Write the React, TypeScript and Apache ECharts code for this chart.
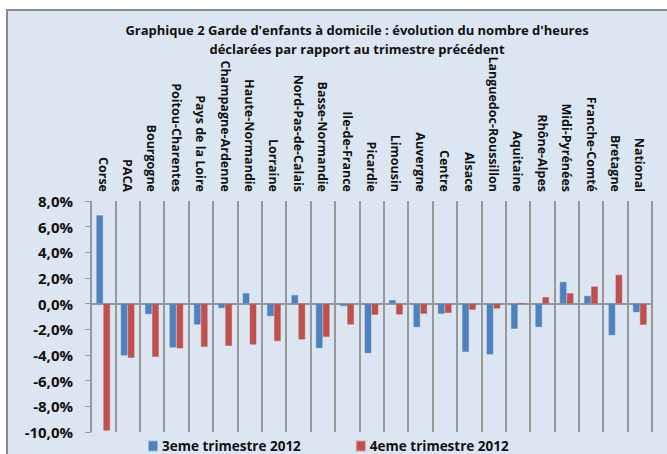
import React, { useEffect, useRef } from "react";
import * as echarts from "echarts";

const categories = [
  "Corse", "PACA", "Bourgogne", "Poitou-Charentes", "Pays de la Loire",
  "Champagne-Ardenne", "Haute-Normandie", "Lorraine", "Nord-Pas-de-Calais",
  "Basse-Normandie", "Ile-de-France", "Picardie", "Limousin", "Auvergne",
  "Centre", "Alsace", "Languedoc-Roussillon", "Aquitaine", "Rhône-Alpes",
  "Midi-Pyrénées", "Franche-Comté", "Bretagne", "National",
];
const q3_2012 = [
  6.9, -4.05, -0.83, -3.43, -1.64, -0.36, 0.83, -0.99, 0.68, -3.48,
  -0.2, -3.87, 0.29, -1.84, -0.8, -3.77, -3.97, -1.97, -1.84, 1.71,
  0.62, -2.47, -0.68,
];
const q4_2012 = [
  -9.9, -4.23, -4.16, -3.5, -3.38, -3.3, -3.2, -2.93, -2.8, -2.6,
  -1.64, -0.88, -0.86, -0.8, -0.73, -0.49, -0.39, 0.03, 0.52, 0.83,
  1.35, 2.26, -1.66,
];
const seriesNames = ["3eme trimestre 2012", "4eme trimestre 2012"];
const titleLines = [
  "Graphique 2 Garde d'enfants à domicile : évolution du nombre d'heures",
  "déclarées par rapport au trimestre précédent",
];

const FONT = "'Open Sans', sans-serif";

export default function App() {
  const ref = useRef<HTMLDivElement>(null);
  useEffect(() => {
    if (!ref.current) return;
    const chart = echarts.init(ref.current, undefined, { renderer: "svg" });
    chart.setOption({
      animation: false,
      backgroundColor: "#ffffff",
      graphic: [
        {
          type: "rect",
          z: -10,
          silent: true,
          shape: { x: 7, y: 10, width: 700, height: 500 },
          style: { fill: "#DCE6F2", stroke: "#8a8a8a", lineWidth: 2 },
        },
      ],
      title: {
        text: titleLines.join("\n"),
        left: 352,
        top: 15,
        textAlign: "center",
        textStyle: {
          fontFamily: FONT,
          fontWeight: "bold",
          fontSize: 13,
          color: "#111",
          lineHeight: 19,
        },
      },
      legend: {
        left: 143,
        top: 434,
        itemWidth: 8,
        itemHeight: 9,
        itemGap: 55,
        icon: "rect",
        textStyle: { fontFamily: FONT, fontWeight: "bold", fontSize: 13.5, color: "#111" },
        data: seriesNames,
      },
      grid: { left: 91, right: 15, top: 201, bottom: 22, containLabel: false },
      xAxis: [
        {
          type: "category",
          data: categories,
          position: "top",
          axisLine: { show: false, onZero: false },
          axisTick: { show: false },
          axisLabel: {
            rotate: 90,
            interval: 0,
            margin: 9,
            fontFamily: FONT,
            fontWeight: "bold",
            fontSize: 12.5,
            color: "#111",
          },
          splitLine: { show: true, lineStyle: { color: "#989898", width: 2 } },
        },
        {
          type: "category",
          data: categories,
          position: "bottom",
          axisLine: { show: true, onZero: true, lineStyle: { color: "#989898", width: 2 } },
          axisTick: { show: true, length: 5, lineStyle: { color: "#989898", width: 2 } },
          axisLabel: { show: false },
          splitLine: { show: false },
        },
      ],
      yAxis: {
        type: "value",
        min: -10,
        max: 8,
        interval: 2,
        axisLine: { show: true, lineStyle: { color: "#989898", width: 1 } },
        axisTick: { show: true, length: 6, lineStyle: { color: "#989898" } },
        splitLine: { show: false },
        axisLabel: {
          margin: 18,
          fontFamily: FONT,
          fontWeight: "bold",
          fontSize: 15,
          color: "#111",
          formatter: (v: number) => v.toFixed(1).replace(".", ",") + "%",
        },
      },
      series: [
        {
          name: seriesNames[0],
          type: "bar",
          xAxisIndex: 0,
          data: q3_2012,
          barWidth: 7,
          barGap: "0%",
          itemStyle: { color: "#4F81BD", borderColor: "rgba(79,129,189,0.45)", borderWidth: 1 },
        },
        {
          name: seriesNames[1],
          type: "bar",
          xAxisIndex: 0,
          data: q4_2012,
          barWidth: 7,
          barGap: "0%",
          itemStyle: { color: "#C0504D", borderColor: "rgba(192,80,77,0.45)", borderWidth: 1 },
        },
      ],
    });
    return () => chart.dispose();
  }, []);
  return (
    <div
      ref={ref}
      style={{ position: "absolute", left: 0, top: 0, width: 667, height: 454 }}
    />
  );
}
